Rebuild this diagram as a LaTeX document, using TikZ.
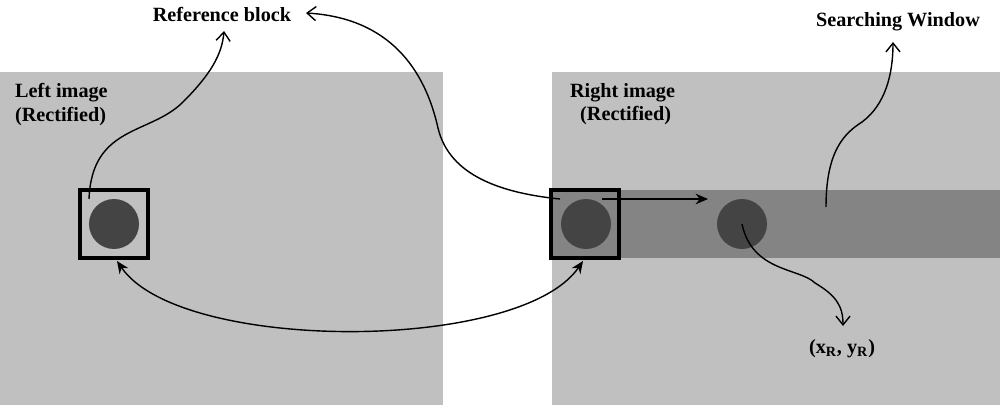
\documentclass[tikz,border=0pt]{standalone}
\usepackage{fontspec}
\setmainfont{Liberation Serif}
\usetikzlibrary{arrows.meta}
\definecolor{imggray}{HTML}{C0C0C0}
\definecolor{bandgray}{HTML}{848484}
\definecolor{dotgray}{HTML}{444444}
\tikzset{
  img/.style={fill=imggray, draw=none},
  band/.style={fill=bandgray, draw=none},
  dot/.style={circle, fill=dotgray, draw=none, minimum size=1.0cm, inner sep=0pt},
  blockbox/.style={draw=black, line width=2.2pt, minimum width=1.36cm, minimum height=1.36cm, inner sep=0pt, fill=none},
  lbl/.style={font=\bfseries\fontsize{11.5}{13.5}\selectfont, inner sep=1pt},
  openarrow/.style={-{Straight Barb[length=5pt,width=8pt]}, line width=0.8pt},
  filledarrow/.style={-{Stealth[length=7pt,width=6pt]}, line width=0.9pt},
  dblarrow/.style={{Stealth[length=7pt,width=6pt]}-{Stealth[length=7pt,width=6pt]}, line width=0.8pt}
}
\begin{document}
\begin{tikzpicture}[x=0.02cm,y=-0.02cm]
\useasboundingbox (0,0) rectangle (1000,405);
% images
\fill[img] (0,72) rectangle (443,405);
\fill[img] (552,72) rectangle (1000,405);
\fill[band] (552,190) rectangle (1000,258);
% dots and boxes
\node[dot] (c1) at (114,224) {};
\node[dot] (c2) at (586,224) {};
\node[dot] (c3) at (742,224) {};
\node[blockbox] (b1) at (114,224) {};
\node[blockbox] (b2) at (585,224) {};
% labels
\node[lbl] (ref) at (222,14) {Reference block};
\node[lbl] (sw) at (898,22) {Searching Window};
\node[lbl, align=left, anchor=north west] (li) at (13,81) {Left image\\(Rectified)};
\node[lbl, align=left, anchor=north west] (ri) at (568,81) {Right image\\\hspace{0.5em}(Rectified)};
\node[lbl] (xy) at (842,349) {(x\textsubscript{R}, y\textsubscript{R})};
% anchor coordinates
\coordinate (s1) at (89,199);
\coordinate (s2) at (560,199);
\coordinate (s3) at (826,207);
\coordinate (h1) at (602,199);
\coordinate (h2) at (708,199);
\coordinate (e1) at (224,31);
\coordinate (e2) at (306,13);
\coordinate (e3) at (893,42);
\coordinate (e4) at (843,326);
\coordinate (d1) at (117,261);
\coordinate (d2) at (583,261);
% connectors
\draw[openarrow] (s1) .. controls (92,125) and (150,135) .. (183,102) .. controls (210,75) and (222,55) .. (e1);
\draw[openarrow] (s2) .. controls (490,192) and (448,170) .. (438,128) .. controls (425,70) and (390,18) .. (e2);
\draw[openarrow] (s3) .. controls (826,150) and (845,133) .. (862,122) .. controls (885,105) and (893,75) .. (e3);
\draw[openarrow] (c3.center) .. controls (752,272) and (800,268) .. (815,283) .. controls (835,295) and (843,305) .. (e4);
\draw[filledarrow] (h1) -- (h2);
\draw[dblarrow] (d1) .. controls (180,353) and (520,353) .. (d2);
\end{tikzpicture}
\end{document}
